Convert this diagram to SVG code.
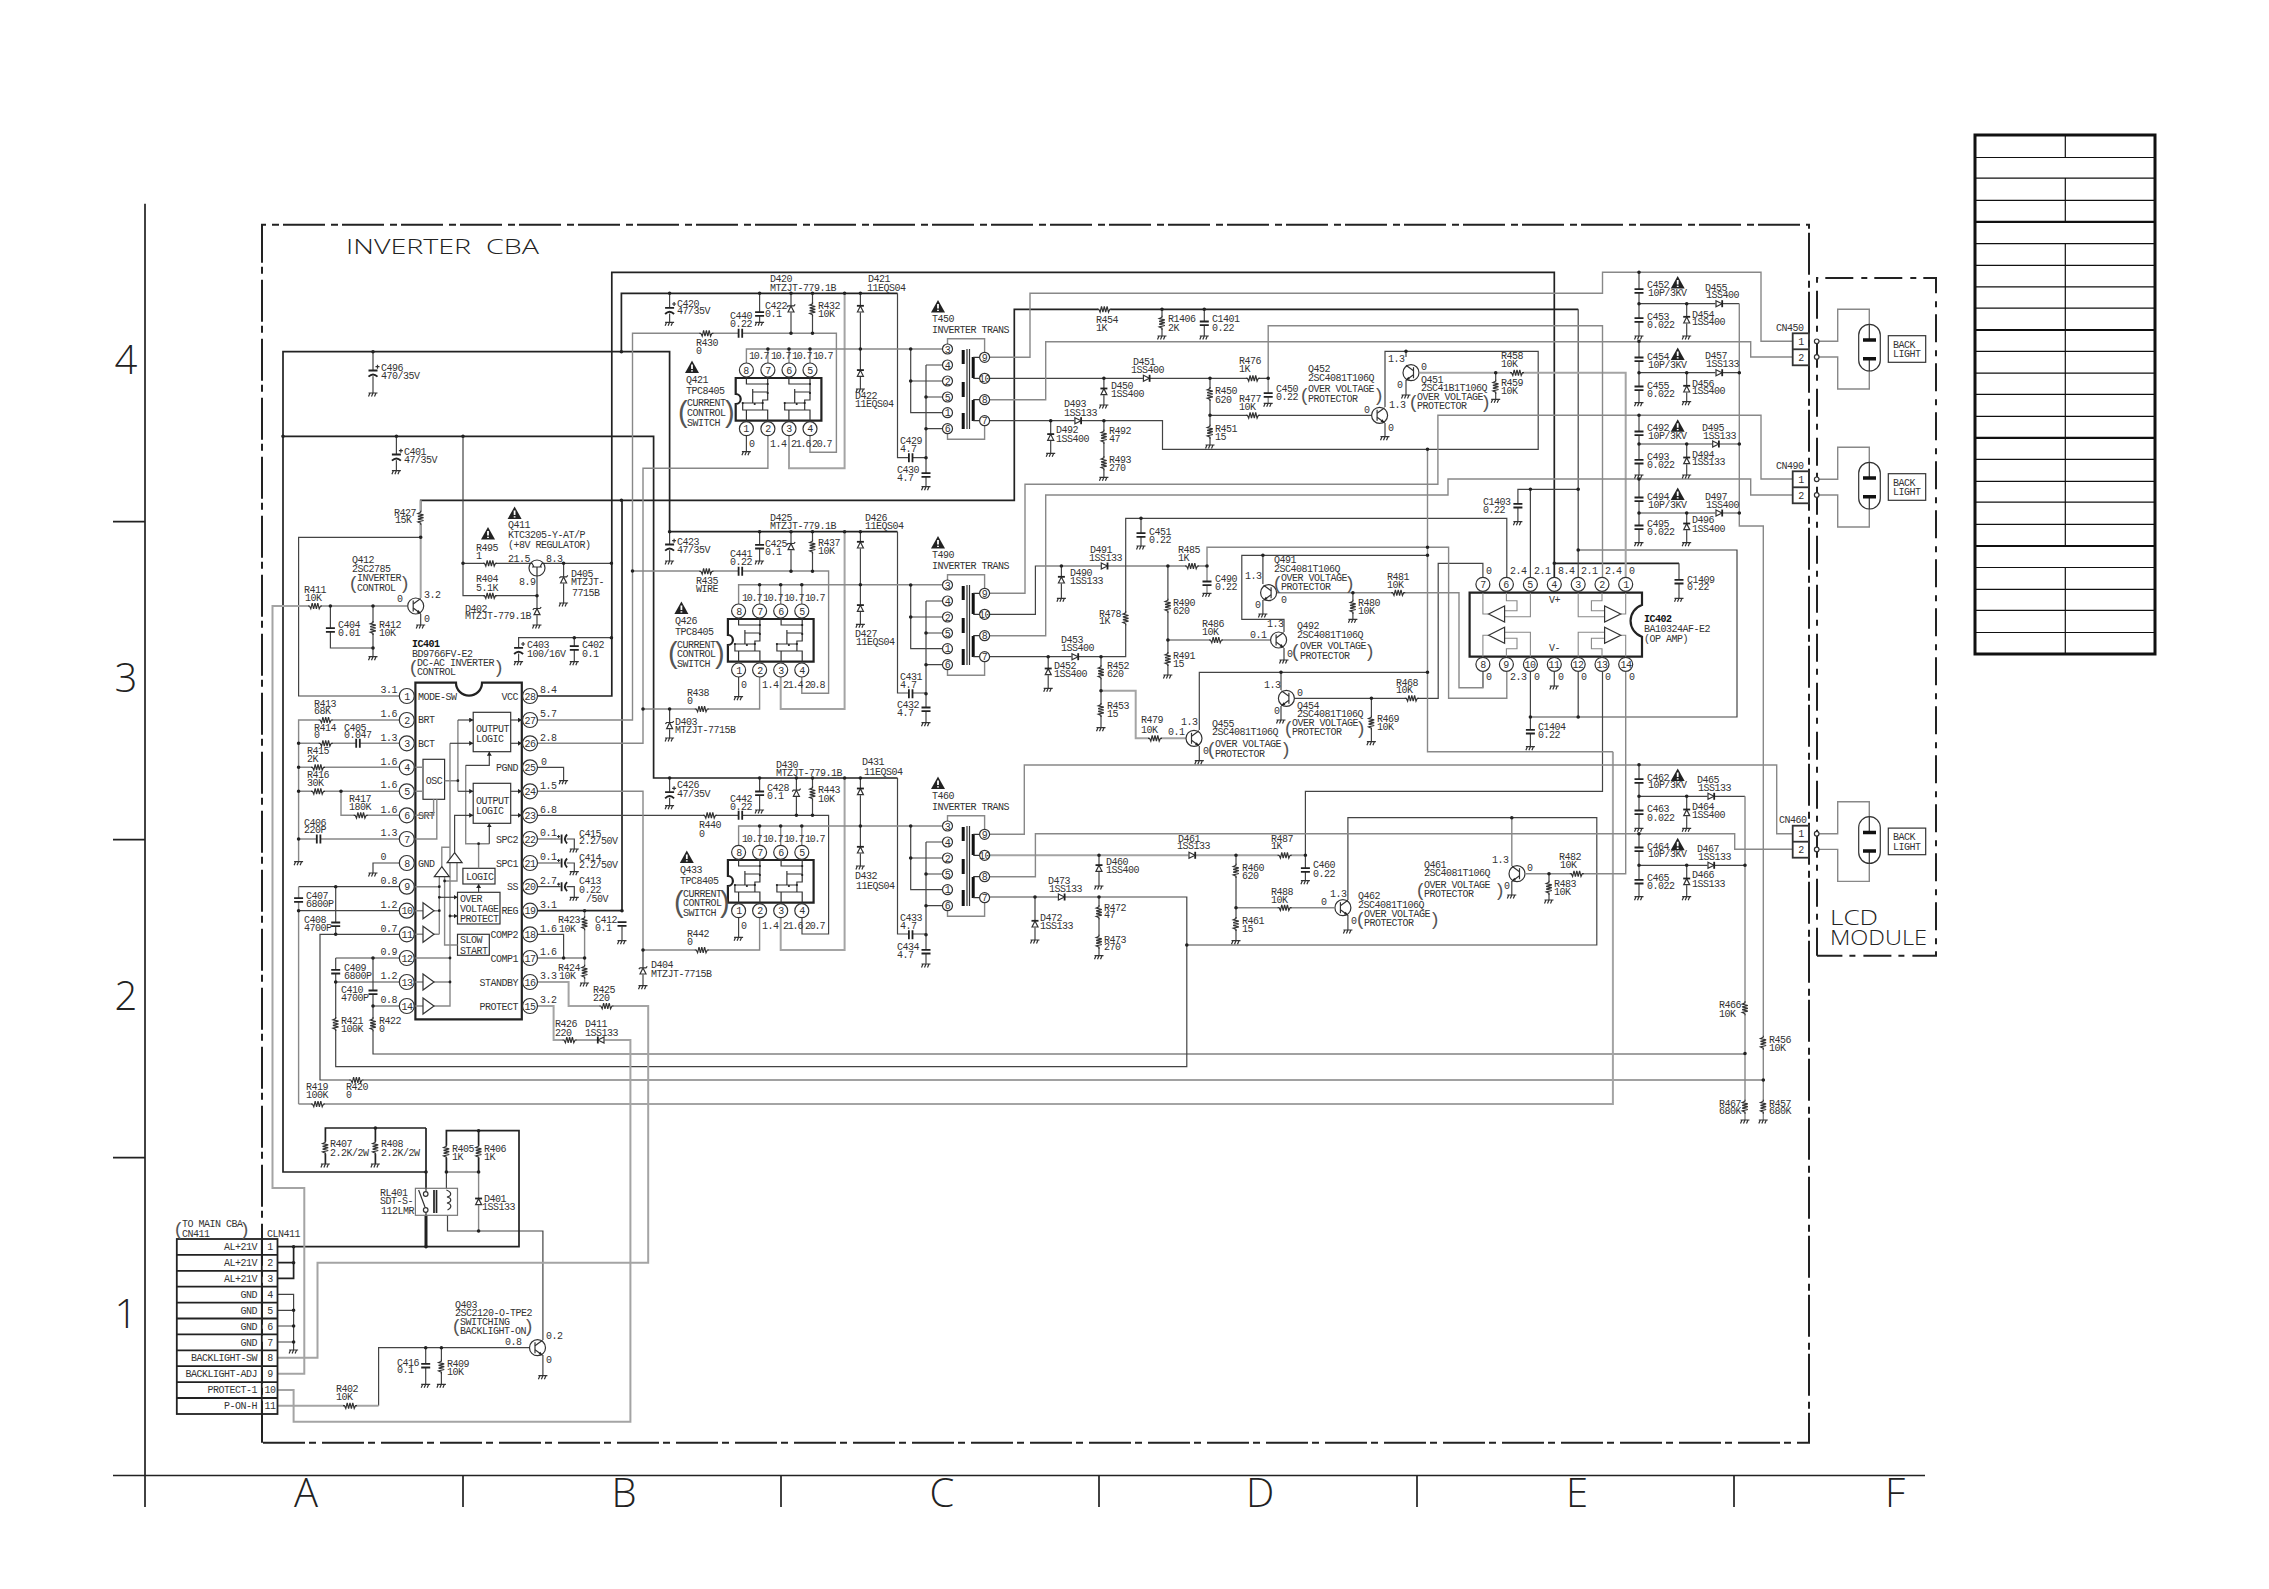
<svg xmlns="http://www.w3.org/2000/svg" width="2269" height="1589" viewBox="0 0 2269 1589">
<style>
text{font:10px "Liberation Mono",monospace;letter-spacing:-.5px;fill:#333}
.c{text-anchor:middle}.e{text-anchor:end}.b{font-weight:700;fill:#111}.n{letter-spacing:-1.2px}
.p{font:19px "Liberation Sans",sans-serif;letter-spacing:0;fill:#555}
.p3{font:29px "Liberation Sans",sans-serif;letter-spacing:0;fill:#555}
.big{font:300 20px "Open Sans","Liberation Sans",sans-serif;letter-spacing:0;fill:#222;white-space:pre}
.ax{font:300 40px "Open Sans","Liberation Sans",sans-serif;letter-spacing:0;fill:#222;text-anchor:middle}
path,line,rect,circle,polygon{fill:none;stroke:#333;stroke-width:1.2}
.w1{stroke:#444;stroke-width:1.2}.w2{stroke:#222;stroke-width:1.7}.w3{stroke:#222;stroke-width:3}
.g1{stroke:#888;stroke-width:1.4}.g2{stroke:#a4a4a4;stroke-width:2}
.dots{stroke:#222;stroke-width:3.6;stroke-linecap:round}
.f{fill:#fff}.k{fill:#222;stroke:none}.ic{fill:#fff;stroke:#222;stroke-width:2.2}
.pl{stroke:#222;stroke-width:1.8}.hv{stroke:#111;stroke-width:3.5}
.fr{stroke:#222;stroke-width:2;stroke-dasharray:42 6 7 4}.fr2{stroke:#222;stroke-width:2;stroke-dasharray:28 8 6 7}
</style>
<defs>
<marker id="a" markerWidth="5" markerHeight="5" refX="4" refY="2.5" orient="auto" markerUnits="userSpaceOnUse"><path class="k" d="M0 0L4 2.5L0 5Z"/></marker>
<g id="rv"><rect x="-3.5" y="-6" width="7" height="12" style="fill:#fff;stroke:none"/><path d="M0-7V-5.5L-2.8-4.2L2.8-2.8L-2.8-1.4L2.8 0L-2.8 1.4L2.8 2.8L-2.8 4.2L0 5.5V7" stroke-width="1.4"/></g>
<g id="rh"><rect x="-6" y="-3.5" width="12" height="7" style="fill:#fff;stroke:none"/><path d="M-7 0H-5.5L-4.2 2.8L-2.8-2.8L-1.4 2.8L0-2.8L1.4 2.8L2.8-2.8L4.2 2.8L5.5 0H7" stroke-width="1.4"/></g>
<g id="gd"><path d="M-4.5 0H4.5M-3 0L-4.5 3.5M0 0L-1.5 3.5M3 0L1.5 3.5" stroke-width="1"/></g>
<g id="cv"><rect x="-5" y="-1.7" width="10" height="3.4" style="fill:#fff;stroke:none"/><path class="pl" d="M-4.5-1.8H4.5M-4.5 1.8H4.5"/></g>
<g id="ch"><rect x="-1.7" y="-5" width="3.4" height="10" style="fill:#fff;stroke:none"/><path class="pl" d="M-1.8-4.5V4.5M1.8-4.5V4.5"/></g>
<g id="ce"><rect x="-5" y="-2.5" width="10" height="6" style="fill:#fff;stroke:none"/><path class="pl" d="M-4.5-2.2H4.5M-4.5 4Q0-.5 4.5 4"/><path d="M2.5-6H6.5M4.5-8V-4"/></g>
<g id="ceh"><rect x="-3" y="-5" width="6" height="10" style="fill:#fff;stroke:none"/><path class="pl" d="M-2-4.5V4.5M3.5-4.5Q-1 0 3.5 4.5"/><path d="M-6.5-2.5H-3.5M-5-4V-1"/></g>
<g id="du"><rect x="-3.5" y="-3.5" width="7" height="7" style="fill:#fff;stroke:none"/><path class="f" d="M-3 3L0-3L3 3Z" stroke-width="1.5"/><path class="pl" d="M-3.5-3.2H3.5"/></g>
<g id="dz"><rect x="-3.5" y="-3.5" width="7" height="7" style="fill:#fff;stroke:none"/><path class="f" d="M-3 3L0-3L3 3Z" stroke-width="1.5"/><path d="M-4.2-1.8L-3-3.2H3L4.2-4.6" stroke-width="1.5"/></g>
<g id="dr"><rect x="-3.5" y="-3.5" width="7" height="7" style="fill:#fff;stroke:none"/><path class="f" d="M-3-3L3 0L-3 3Z" stroke-width="1.6"/><path class="pl" d="M3.2-3.5V3.5"/></g>
<g id="dl"><rect x="-3.5" y="-3.5" width="7" height="7" style="fill:#fff;stroke:none"/><path class="f" d="M3-3L-3 0L3 3Z" stroke-width="1.6"/><path class="pl" d="M-3.2-3.5V3.5"/></g>
<g id="w"><path class="k" d="M0-6.5L7 6H-7Z"/><path d="M0-2.5V2M0 3.2V4.6" style="stroke:#fff;stroke-width:1.8"/></g>
<g id="q"><circle r="8" class="f" stroke-width="1.7"/><path d="M-2.5-5.5V5.5" stroke-width="2"/><path d="M-2.5-2L5-7.5M-2.5 2L5 7.5"/><path class="k" d="M5 7.5L1 6.5L2.8 4Z"/></g>
<g id="ta"><polygon class="f" points="0,-8 11,0 0,8"/></g>
<g id="tu"><polygon class="f" points="0,-5 7.5,5 -7.5,5"/></g>
<g id="chip"><path class="ic" d="M0 0H85.7V42.7H0V26A5 5 0 0 0 0 16Z"/>
<path d="M10.7 0V6H32V0M32 6V22H27V32M17 14H32M17 11V25M7 25H27M7 25V32H10.7M10.7 42.7V32H32V42.7M53.2 0V6H74.3V0M74.3 6V22H69V32M59 14H74.3M59 11V25M49 25H69M49 25V32H53.2M53.2 42.7V32H74.3V42.7" stroke-width="1"/>
<path class="dots" style="stroke-width:2.2" d="M32 6h0M32 15h0M7 25h0M27 25h0M19 26h0M74.3 6h0M74.3 15h0M49 25h0M69 25h0M61 26h0"/></g>
<g id="tr"><path class="g1" d="M947.5 344V338.7H984.6V352M947.5 434V439.3H984.6V426"/>
<path class="w1" d="M910.7 349V412.7H942.5M910.7 381H942.5M926 365H942.5M926 365V486.7M926 397H942.5M926 428.7H942.5"/>
<path class="dots" d="M910.7 349h0M910.7 381h0M926 397h0M926 428.7h0M926 457.7h0"/>
<path class="hv" style="stroke-width:3" d="M963.2 350V364M963.2 382V397M963.2 413V429M973.2 357V378M973.2 400V421"/>
<path d="M967 349V429M969.5 349V429M973.2 357.3H979.6M973.2 378.3H979.6M973.2 399.7H979.6M973.2 420.7H979.6"/>
<circle class="f" cx="947.5" cy="349" r="5"/><circle class="f" cx="947.5" cy="365" r="5"/><circle class="f" cx="947.5" cy="381" r="5"/><circle class="f" cx="947.5" cy="397" r="5"/><circle class="f" cx="947.5" cy="412.7" r="5"/><circle class="f" cx="947.5" cy="428.7" r="5"/>
<circle class="f" cx="984.6" cy="357.3" r="5"/><circle class="f" cx="984.6" cy="378.3" r="5"/><circle class="f" cx="984.6" cy="399.7" r="5"/><circle class="f" cx="984.6" cy="420.7" r="5"/></g>
<g id="lamp"><path class="g1" d="M1819 341.3H1837.7V309.3H1869.3V324M1819 357H1837.7V389H1869.3V371"/><path d="M1869.3 324V340M1869.3 359V371"/><rect x="1858.7" y="324.3" width="21.6" height="46.7" rx="10.8"/><path class="hv" d="M1863 340H1876M1863 358.7H1876"/><circle class="f" cx="1816.7" cy="341.3" r="2.3"/><circle class="f" cx="1816.7" cy="357" r="2.3"/><rect x="1888.3" y="335.7" width="37.4" height="26.6"/><rect x="1792.7" y="333.3" width="16.3" height="32" style="stroke-width:1.8"/><path style="stroke-width:1.8" d="M1792.7 349.3H1809"/></g>
</defs>
<rect width="2269" height="1589" style="fill:#fff;stroke:none"/>
<g id="frame">
<path class="w2" d="M145 203.7V1507M113 1475.5H1925M113 521.7H145M113 839.6H145M113 1157.6H145M463 1475.5V1507M781 1475.5V1507M1099 1475.5V1507M1417 1475.5V1507M1734 1475.5V1507"/>
<text class="ax" x="126" y="374">4</text><text class="ax" x="126" y="692">3</text><text class="ax" x="126" y="1010">2</text><text class="ax" x="126" y="1328">1</text>
<text class="ax" x="306" y="1507">A</text><text class="ax" x="624" y="1507">B</text><text class="ax" x="942" y="1507">C</text><text class="ax" x="1260" y="1507">D</text><text class="ax" x="1577" y="1507">E</text><text class="ax" x="1895" y="1507">F</text>
<path class="fr" d="M262 1442.7V224.7H1809V1442.7H262"/>
<path class="fr2" d="M1817 955.7V278H1936V955.7H1817"/>
<text class="big" x="346" y="254" textLength="193" lengthAdjust="spacingAndGlyphs">INVERTER  CBA</text>
<text class="big" x="1830" y="925" textLength="48" lengthAdjust="spacingAndGlyphs">LCD</text>
<text class="big" x="1830" y="945" textLength="97" lengthAdjust="spacingAndGlyphs">MODULE</text>
</g>
<g id="table">
<rect x="1975" y="135" width="180" height="519" style="stroke:#111;stroke-width:3"/>
<path style="stroke:#111;stroke-width:1.2" d="M1975 157.5H2155M1975 178.2H2155M1975 200.4H2155M1975 243.6H2155M1975 265.4H2155M1975 286.8H2155M1975 308.2H2155M1975 351.4H2155M1975 373.2H2155M1975 394.3H2155M1975 416.4H2155M1975 459.3H2155M1975 481.4H2155M1975 502.1H2155M1975 524.3H2155M1975 567.5H2155M1975 589.3H2155M1975 610.4H2155M1975 632.5H2155M2065.3 135V157.5M2065.3 178.2V221.8M2065.3 243.6V546M2065.3 567.5V654"/>
<path style="stroke:#111;stroke-width:2.2" d="M1975 221.8H2155M1975 330H2155M1975 437.9H2155M1975 546H2155"/>
</g>
<g id="connectors">
<path class="w2" d="M426 1172H283V351.7H669.6V531.7H897.5M283 436.3H653.6V778H897.5M537 696H611.8V272.3H1554.3V577M621.4 351.7V293.3H897.5M420.7 537V500.3H1014.3V309.3H1578.2M537 910.7H622V500.3M1554.3 563.3H1679"/>
<path class="w1" d="M399 696H298.6V537.3H420.7M330.4 606V648H373M373 606V656.7M420.7 614V625M463 436.3V595.7H537M463 563.3H529M545 563.3H611.8M563.6 563.3V603M537 576V625M518.6 661V637.7H611.8M574.3 637.7V661M373 351.7V393M396.4 436.3V470.7M399 863H373V873M298.6 886.7H399M298.6 910.7H399M399 934.3H320V1080H1763.3M335.7 886.7V934.3M335.7 958H399M335.7 958V1066.7H1186.8V897H989.6M335.7 982H399M373 958V1054H1745M373 1006H399M537 767.3H563.6V780.7M537 815.3H828.6V934H802V917.7M537 839H574.3V849M537 863H574.3V871.7M537 886.7H574.3V897.3M537 934.3H563.6V958M537 958H584.6M277.5 1294.3H293.6V1350M277.5 1310.3H293.6M277.5 1326H293.6M277.5 1342H293.6M446.4 1172V1190M447.5 1210V1231H542.9V1340M542.9 1355V1375.7M378.6 1405.7V1347.7H529M425.7 1347.7V1384.3M441.4 1347.7V1384.3M746.4 436V451.7M860.4 293.3V389M791 293.3V333.3M812.5 293.3V333.3M669.6 293.3V322.3M759.6 293.3V322.3M897.5 293.3V457.7H926M738.6 677V696.7M860.4 531.7V624.3M791 531.7V571M812.5 531.7V571M759.6 531.7V561M669.6 531.7V561M897.5 531.7V693H926M669.6 709V738M738.6 918V937.3M860.4 778V866M796.4 778V815.3M812.5 778V815.3M759.6 778V810M669.6 778V805.7M897.5 778V934H926M643 950V985.7M989.6 378.3H1268.2M989.6 420.7H1162.5V449.3H1538.2V351.3H1385V407M1103.9 378.3V405M1050.7 420.7V453.3M1103.9 420.7V477.3M1162 309.3V336M1204.3 309.3V336M1210 378.3V445M1210 415.3H1371M1385 423V436.7M1406 351.3V357M1406 380V395M1495.7 372.7V399.3M989.6 614.3H1035.4V566H1207M989.6 656.7H1125.7V518.3H1506.8V577M1061.4 566V598.3M1048.2 656.7V688.3M1101 656.7V727.7M1141 518.3V546M1167.9 566V675M1167.9 640H1270M1284 632V619.3H1241.8V555.3H1427.5M1284 648V660M1262.9 555.3V584M1262.9 600V614M1352.9 592.7V619.3M1199.3 730V672.3H1427.5M1199.3 746V760.7M1281 672.3V690M1281 706V720M1295 698.3H1438.2V563.3H1482.9V577M1371.4 698.3V741.7M989.6 897H1186.8M1099 855.3V886M1035 897V940M1099 897V955.7M1236 855.3V940.7M1305.4 855.3V791.3H1602.5V672M1305.4 855V880.7M1347.9 900V817.7H1596.8V945H1186.8M1347.9 915V930M1511.8 881V895M1549 873.7V900M1578.2 309.3V577M1578.2 672V717H1737V550H1578.2M1530.4 577V489.3M1517.9 521.7V489.3H1578.2M1530.4 672V746.7M1530.4 717H1578.2M1554.3 672V686M1679 563.3V598.3M1482.9 672V687.7M1639 272.3V336M1639 341.3V402.7M1639 303.7H1739.3M1686.7 303.7V336M1639 372.7H1739.3M1686.7 372.7V401.7M1639 415.3V475M1639 479V542.7M1639 444H1739.3M1686.7 444V475M1639 513H1739.3M1686.7 513V542.7M1639 764.7V828.3M1639 833.7V896.7M1639 796.3H1745M1686.7 796.3V828.3M1639 865.3H1745M1686.7 865.3V896.7"/>
<path class="w2" d="M277.5 1246.7H519V1130.7H446.4V1172M478.6 1130.7V1172M277.5 1262.7H293.6M293.6 1246.7V1278.3H277.5M426 1128H325.4V1164M375.4 1128V1164M426 1128V1189"/>
<path class="w3" d="M426 1215V1246.7"/>
<path class="g2" d="M420.7 500.3V598M277.5 1373.7H304.3V1188H272.5V606H407M298.6 1104H1612.9V751.7M537 1006H553.6V1040H630.4V1421.7H293.6V1390H277.5M537 982H568.6V1006H648.2V1262.7H317.5V1357.7H277.5M277.5 1405.7H378.6M789 436V468.3H844.6V293.3M780.7 677V709H844.6V531.7M780.7 918V950H844.6V778M1101 690.7H1135.7V738.3H1186M1420 372.7H1625.7V577M989.6 855.3H1305.4"/>
<path class="g1" d="M399 720H298.6V861.7M298.6 743.3H399M298.6 767.3H399M298.6 791.3H399M341 791.3V815.3H399M298.6 839H399M298.6 886.7V1104M1612.9 751.7H1427.5V449.3M537 720H632.5V333.3H836.4V452.3H810V436M537 743.3H643V468.3H767.9V436M537 791.3H643V950M584.6 910.7V983M446.4 1172H478.6M478.6 1172V1231M746.4 363V349H942.9M767.9 349V363M789 349V363M810 349V363M738.6 604V584.7H942.9M759.6 584.7V604M780.7 584.7V604M801.8 584.7V604M759.6 677V709H643M632.5 571H828.6V693.3H801.8V677M738.6 845V826H942.9M759.6 826V845M780.7 826V845M801.8 826V845M759.6 918V950H643M989.6 357.3H1030V293.3H1602.5V272.3H1761V341.3H1792.7M989.6 399.7H1045.7V341.7H1750.7V357H1792.7M1268.2 403.3V325.7H1602.5V577M989.6 593.3H1025V484.3H1437.9V415.3H1761V479H1792.7M989.6 635.7H1045.7V495H1448V479H1750.7V495H1792.7M1207 593.3V547.3H1448.6V698.3H1506.8V672M1277 592.7H1459V687.7H1482.9V672M989.6 834.3H1024.3V765H1776.7V833.7H1792.7M989.6 876.7H1035.4V833.7H1734.7V849.3H1792.7M1236 907.7H1334M1511.8 817.7V866M1526 873.7H1625.7V672M1739.3 303.7V526H1763.3V1120M1745 796.3V1120"/>
<path class="dots" d="M373 351.7h0M621.4 351.7h0M283 436.3h0M396.4 436.3h0M463 436.3h0M463 563.3h0M611.4 563.3h0M563.6 563.3h0M420.7 537.3h0M330.4 606h0M373 606h0M373 648h0M537 595.7h0M574.3 637.7h0M611.4 637.7h0M621.4 500.3h0M632.5 571h0M643 709h0M669.6 709h0M298.6 743.3h0M298.6 767.3h0M298.6 791.3h0M341 791.3h0M298.6 839h0M335.7 886.7h0M298.6 910.7h0M335.7 934.3h0M373 958h0M335.7 982h0M373 1006h0M622 910.7h0M584.6 910.7h0M563.6 958h0M584.6 958h0M293.6 1246.7h0M293.6 1262.7h0M426 1246.7h0M293.6 1310.3h0M293.6 1326h0M293.6 1342h0M375.4 1128h0M478.6 1130.7h0M426 1172h0M446.4 1172h0M478.6 1172h0M478.6 1231h0M425.7 1347.7h0M441.4 1347.7h0M669.6 293.3h0M759.6 293.3h0M791 293.3h0M812.5 293.3h0M844.6 293.3h0M860.4 293.3h0M791 333.3h0M812.5 333.3h0M767.9 349h0M789 349h0M810 349h0M860.4 349h0M669.6 531.7h0M759.6 531.7h0M791 531.7h0M812.5 531.7h0M844.6 531.7h0M860.4 531.7h0M791 571.3h0M812.5 571.3h0M759.6 584.7h0M780.7 584.7h0M801.8 584.7h0M860.4 584.7h0M669.6 778h0M759.6 778h0M796.4 778h0M812.5 778h0M844.6 778h0M860.4 778h0M796.4 815.3h0M812.5 815.3h0M759.6 826h0M780.7 826h0M801.8 826h0M860.4 826h0M643 950h0M1103.9 378.3h0M1050.7 420.7h0M1103.9 420.7h0M1162 309.3h0M1204.3 309.3h0M1210 378.3h0M1268.2 378.3h0M1210 415.3h0M1406 351.3h0M1495.7 372.7h0M1427.5 449.3h0M1061.4 566h0M1048.2 656.7h0M1101 656.7h0M1101 690.7h0M1141 518.3h0M1167.9 566h0M1207 566h0M1167.9 640h0M1427.5 547.3h0M1262.9 555.3h0M1427.5 555.3h0M1352.9 592.7h0M1281 672.3h0M1427.5 672.3h0M1371.4 698.3h0M1099 855.3h0M1035 897h0M1099 897h0M1236 855.3h0M1305.4 855.3h0M1236 907.7h0M1186.8 945h0M1511.8 817.7h0M1549 873.7h0M1554.3 563.3h0M1578.2 550h0M1530.4 489.3h0M1578.2 489.3h0M1578.2 717h0M1530.4 717h0M1639 272.3h0M1639 303.7h0M1686.7 303.7h0M1639 341.3h0M1639 372.7h0M1686.7 372.7h0M1739.3 372.7h0M1639 415.3h0M1639 444h0M1686.7 444h0M1739.3 444h0M1639 479h0M1639 513h0M1686.7 513h0M1739.3 513h0M1639 764.7h0M1639 796.3h0M1686.7 796.3h0M1639 833.7h0M1639 865.3h0M1686.7 865.3h0M1745 865.3h0M1745 1053.5h0M1763.3 1080h0"/>
</g>
<g id="C496"><use href="#ce" x="373" y="372.7"/><use href="#gd" x="373" y="393"/><text x="381" y="371">C496</text><text x="381" y="379">470/35V</text></g>
<g id="C401"><use href="#ce" x="396.4" y="456.7"/><use href="#gd" x="396.4" y="470.7"/><text x="404" y="455">C401</text><text x="404" y="463">47/35V</text></g>
<g id="R427"><use href="#rv" x="420.7" y="517.7"/><text x="394" y="516">R427</text><text x="395" y="523">15K</text></g>
<g id="Q412"><use href="#q" x="415.7" y="606"/><use href="#gd" x="420.7" y="625"/><text x="352" y="563">Q412</text><text x="352" y="572">2SC2785</text><text x="357" y="581">INVERTER</text><text x="357" y="591">CONTROL</text><text class="p" x="350" y="589">(</text><text class="p" x="402" y="589">)</text><text x="397" y="602">0</text><text x="424" y="598">3.2</text><text x="424" y="622">0</text></g>
<g id="R411"><use href="#rh" x="315" y="606"/><text x="304" y="593">R411</text><text x="305" y="601">10K</text></g>
<g id="C404"><use href="#cv" x="330.4" y="630"/><text x="338" y="628">C404</text><text x="338" y="636">0.01</text></g>
<g id="R412"><use href="#rv" x="373" y="628"/><use href="#gd" x="373" y="656.7"/><text x="379" y="628">R412</text><text x="379" y="636">10K</text></g>
<g id="R495"><use href="#w" x="488" y="533.5"/><use href="#rh" x="490" y="563.3"/><text x="476" y="551">R495</text><text x="476" y="559">1</text></g>
<g id="R404"><use href="#rh" x="490" y="595.7"/><text x="476" y="582">R404</text><text x="476" y="591">5.1K</text></g>
<g id="Q411"><use href="#w" x="514.6" y="513"/><circle class="f" cx="537" cy="568" r="8" stroke-width="1.7"/><path d="M529 563.3H532L534 567M545 563.3H542L540 567M532 567H542M537 567V576" stroke-width="1.3"/><text x="508" y="528">Q411</text><text x="508" y="538">KTC3205-Y-AT/P</text><text x="508" y="548">(+8V REGULATOR)</text><text x="508" y="562">21.5</text><text x="546" y="562">8.3</text><text x="519" y="585">8.9</text></g>
<g id="D405"><use href="#dz" x="563.6" y="580"/><use href="#gd" x="563.6" y="603"/><text x="571" y="577">D405</text><text x="571" y="585">MTZJT-</text><text x="572" y="596">7715B</text></g>
<g id="D402"><use href="#dz" x="537" y="611.7"/><use href="#gd" x="537" y="625"/><text x="465" y="612">D402</text><text x="465" y="619">MTZJT-779.1B</text></g>
<g id="C403"><use href="#ce" x="518.6" y="650"/><use href="#gd" x="518.6" y="661.7"/><text x="527" y="648">C403</text><text x="527" y="657">100/16V</text></g>
<g id="C402"><use href="#cv" x="574.3" y="648"/><use href="#gd" x="574.3" y="661.7"/><text x="582" y="648">C402</text><text x="582" y="657">0.1</text></g>
<g id="IC401">
<path class="ic" d="M415.4 682.7H456A13 13 0 0 0 482 682.7H521.8V1019.3H415.4Z"/>
<text class="b" x="412" y="647">IC401</text><text x="412" y="657">BD9766FV-E2</text><text x="417" y="666">DC-AC INVERTER</text><text x="417" y="675">CONTROL</text><text class="p" x="410" y="673">(</text><text class="p" x="496" y="673">)</text>
<circle class="f" cx="406.8" cy="696" r="7.5"/><circle class="f" cx="406.8" cy="720" r="7.5"/><circle class="f" cx="406.8" cy="743.3" r="7.5"/><circle class="f" cx="406.8" cy="767.3" r="7.5"/><circle class="f" cx="406.8" cy="791.3" r="7.5"/><circle class="f" cx="406.8" cy="815.3" r="7.5"/><circle class="f" cx="406.8" cy="839" r="7.5"/><circle class="f" cx="406.8" cy="863" r="7.5"/><circle class="f" cx="406.8" cy="886.7" r="7.5"/><circle class="f" cx="406.8" cy="910.7" r="7.5"/><circle class="f" cx="406.8" cy="934.3" r="7.5"/><circle class="f" cx="406.8" cy="958" r="7.5"/><circle class="f" cx="406.8" cy="982" r="7.5"/><circle class="f" cx="406.8" cy="1006" r="7.5"/>
<circle class="f" cx="530" cy="696" r="7.5"/><circle class="f" cx="530" cy="720" r="7.5"/><circle class="f" cx="530" cy="743.3" r="7.5"/><circle class="f" cx="530" cy="767.3" r="7.5"/><circle class="f" cx="530" cy="791.3" r="7.5"/><circle class="f" cx="530" cy="815.3" r="7.5"/><circle class="f" cx="530" cy="839" r="7.5"/><circle class="f" cx="530" cy="863" r="7.5"/><circle class="f" cx="530" cy="886.7" r="7.5"/><circle class="f" cx="530" cy="910.7" r="7.5"/><circle class="f" cx="530" cy="934.3" r="7.5"/><circle class="f" cx="530" cy="958" r="7.5"/><circle class="f" cx="530" cy="982" r="7.5"/><circle class="f" cx="530" cy="1006" r="7.5"/>
<text class="c" x="407" y="700">1</text><text class="c" x="407" y="724">2</text><text class="c" x="407" y="747">3</text><text class="c" x="407" y="771">4</text><text class="c" x="407" y="795">5</text><text class="c" x="407" y="819">6</text><text class="c" x="407" y="843">7</text><text class="c" x="407" y="867">8</text><text class="c" x="407" y="890">9</text><text class="c" x="407" y="914">10</text><text class="c" x="407" y="938">11</text><text class="c" x="407" y="962">12</text><text class="c" x="407" y="986">13</text><text class="c" x="407" y="1010">14</text>
<text class="c" x="530" y="700">28</text><text class="c" x="530" y="724">27</text><text class="c" x="530" y="747">26</text><text class="c" x="530" y="771">25</text><text class="c" x="530" y="795">24</text><text class="c" x="530" y="819">23</text><text class="c" x="530" y="843">22</text><text class="c" x="530" y="867">21</text><text class="c" x="530" y="890">20</text><text class="c" x="530" y="914">19</text><text class="c" x="530" y="938">18</text><text class="c" x="530" y="962">17</text><text class="c" x="530" y="986">16</text><text class="c" x="530" y="1010">15</text>
<text class="e" x="397" y="693">3.1</text><text class="e" x="397" y="717">1.6</text><text class="e" x="397" y="741">1.3</text><text class="e" x="397" y="765">1.6</text><text class="e" x="397" y="788">1.6</text><text class="e" x="397" y="813">1.6</text><text class="e" x="397" y="836">1.3</text><text class="e" x="386" y="860">0</text><text class="e" x="397" y="884">0.8</text><text class="e" x="397" y="908">1.2</text><text class="e" x="397" y="932">0.7</text><text class="e" x="397" y="955">0.9</text><text class="e" x="397" y="979">1.2</text><text class="e" x="397" y="1003">0.8</text>
<text x="540" y="693">8.4</text><text x="540" y="717">5.7</text><text x="540" y="741">2.8</text><text x="541" y="765">0</text><text x="540" y="789">1.5</text><text x="540" y="813">6.8</text><text x="540" y="836">0.1</text><text x="540" y="860">0.1</text><text x="540" y="884">2.7</text><text x="540" y="908">3.1</text><text x="540" y="932">1.6</text><text x="540" y="955">1.6</text><text x="540" y="979">3.3</text><text x="540" y="1003">3.2</text>
<text x="418" y="700">MODE-SW</text><text x="418" y="723">BRT</text><text x="418" y="747">BCT</text><text x="418" y="819">SRT</text><text x="418" y="867">GND</text>
<text class="e" x="518" y="700">VCC</text><text class="e" x="518" y="771">PGND</text><text class="e" x="518" y="843">SPC2</text><text class="e" x="518" y="867">SPC1</text><text class="e" x="518" y="890">SS</text><text class="e" x="518" y="914">REG</text><text class="e" x="518" y="938">COMP2</text><text class="e" x="518" y="962">COMP1</text><text class="e" x="518" y="986">STANDBY</text><text class="e" x="518" y="1010">PROTECT</text>
<rect x="423" y="759.3" width="21.6" height="40"/><text class="c" x="434" y="784">OSC</text>
<rect x="473.2" y="712.3" width="37.5" height="39.4"/><text x="476" y="732">OUTPUT</text><text x="476" y="742">LOGIC</text>
<rect x="473.2" y="783.3" width="37.5" height="40"/><text x="476" y="804">OUTPUT</text><text x="476" y="814">LOGIC</text>
<rect x="462.9" y="868.3" width="32.1" height="15.7"/><text x="466" y="880">LOGIC</text>
<rect x="457.5" y="892.3" width="42.5" height="31.7"/><text x="460" y="902">OVER</text><text x="460" y="912">VOLTAGE</text><text x="460" y="922">PROTECT</text>
<rect x="457.5" y="934.3" width="31.8" height="21"/><text x="460" y="943">SLOW</text><text x="460" y="954">START</text>
<g><path class="g1" d="M415.4 767.3H423M415.4 791.3H423M415.4 815.3H433.6V799.3M415.4 839H436.8V799.3M444.6 780.7H457.9V791.3M457.9 780.7V720M415.4 886.7H439.3M415.4 910.7H423M415.4 934.3H423M415.4 958H450M415.4 982H423M415.4 1006H423M434 910.7H439.3M434 934.3H439.3M439.3 876V934.3M434 982H450M434 1006H450V743.3M444.6 876V945H457.5M444.6 881H457V862.7M441.8 866.7V847.3H450M478.6 843.7V868.3M465.7 765.3V843.7H489.3"/>
<path class="w1" marker-end="url(#a)" d="M457.9 720H473.2"/><path class="w1" marker-end="url(#a)" d="M450 743.3H473.2"/><path class="w1" marker-end="url(#a)" d="M457.9 791.3H473.2"/><path class="w1" marker-end="url(#a)" d="M454.6 852.7V815.3H473.2"/><path class="w1" marker-end="url(#a)" d="M510.7 720H521.8"/><path class="w1" marker-end="url(#a)" d="M510.7 743.3H521.8"/><path class="w1" marker-end="url(#a)" d="M510.7 791.3H521.8"/><path class="w1" marker-end="url(#a)" d="M510.7 815.3H521.8"/><path class="w1" marker-end="url(#a)" d="M465.7 765.3H489.3V751.7"/><path class="w1" marker-end="url(#a)" d="M489.3 843.7V823.3"/><path class="w1" marker-end="url(#a)" d="M478.6 892.3V884"/><path class="w1" marker-end="url(#a)" d="M439.3 897.3H457.5"/><path class="w1" marker-end="url(#a)" d="M450 916H457.5"/></g>
<use href="#ta" x="423" y="910.7"/><use href="#ta" x="423" y="934.3"/><use href="#ta" x="423" y="982"/><use href="#ta" x="423" y="1006"/><use href="#tu" x="441.8" y="871.7"/><use href="#tu" x="454.6" y="857.7"/>
<path class="dots" style="stroke-width:2.8" d="M457.9 780.7h0M478.6 843.7h0M439.3 886.7h0M439.3 910.7h0M444.6 881h0M439.3 897.3h0M450 916h0M450 958h0M450 982h0"/>
</g>
<g id="R413"><use href="#rh" x="325.7" y="720"/><text x="314" y="707">R413</text><text x="314" y="714">68K</text></g>
<g id="GNDL"><use href="#gd" x="298.6" y="861.7"/><use href="#gd" x="373" y="873"/><use href="#gd" x="563.6" y="780.7"/></g>
<g id="R414"><use href="#rh" x="325.7" y="743.3"/><text x="314" y="731">R414</text><text x="314" y="738">0</text></g>
<g id="C405"><use href="#ch" x="358" y="743.3"/><text x="344" y="731">C405</text><text x="344" y="738">0.047</text></g>
<g id="R415"><use href="#rh" x="318" y="767.3"/><text x="307" y="754">R415</text><text x="307" y="762">2K</text></g>
<g id="R416"><use href="#rh" x="318" y="791.3"/><text x="307" y="778">R416</text><text x="307" y="786">30K</text></g>
<g id="R417"><use href="#rh" x="360.7" y="815.3"/><text x="349" y="802">R417</text><text x="349" y="810">180K</text></g>
<g id="C406"><use href="#ch" x="318.6" y="839"/><text x="304" y="826">C406</text><text x="304" y="833">220P</text></g>
<g id="C407"><use href="#cv" x="298.6" y="900"/><text x="306" y="899">C407</text><text x="306" y="907">6800P</text></g>
<g id="C408"><use href="#cv" x="335.7" y="924.3"/><text x="304" y="923">C408</text><text x="304" y="931">4700P</text></g>
<g id="C409"><use href="#cv" x="335.7" y="971.7"/><text x="344" y="971">C409</text><text x="344" y="979">6800P</text></g>
<g id="C410"><use href="#cv" x="373" y="992.3"/><text x="341" y="993">C410</text><text x="341" y="1001">4700P</text></g>
<g id="R421"><use href="#rv" x="335.7" y="1024"/><text x="341" y="1024">R421</text><text x="341" y="1032">100K</text></g>
<g id="R422"><use href="#rv" x="373" y="1024.3"/><text x="379" y="1024">R422</text><text x="379" y="1032">0</text></g>
<g id="R419"><use href="#rh" x="318" y="1104"/><text x="306" y="1090">R419</text><text x="306" y="1098">100K</text></g>
<g id="R420"><use href="#rh" x="356.4" y="1080"/><text x="346" y="1090">R420</text><text x="346" y="1098">0</text></g>
<g id="C415"><use href="#ceh" x="563.6" y="839"/><use href="#gd" x="574.3" y="849"/><text x="579" y="837">C415</text><text x="579" y="844">2.2/50V</text></g>
<g id="C414"><use href="#ceh" x="563.6" y="863"/><use href="#gd" x="574.3" y="871.7"/><text x="579" y="861">C414</text><text x="579" y="868">2.2/50V</text></g>
<g id="C413"><use href="#ceh" x="563.6" y="886.7"/><use href="#gd" x="574.3" y="897.3"/><text x="579" y="884">C413</text><text x="579" y="893">0.22</text><text x="586" y="902">/50V</text></g>
<g id="C412"><use href="#cv" x="622" y="924"/><use href="#gd" x="622" y="940.7"/><path class="w1" d="M622 926V940.7"/><text x="595" y="923">C412</text><text x="595" y="931">0.1</text></g>
<g id="R423"><use href="#rv" x="584.6" y="923.3"/><text x="558" y="923">R423</text><text x="559" y="932">10K</text></g>
<g id="R424"><use href="#rv" x="584.6" y="971.7"/><use href="#gd" x="584.6" y="983"/><text x="558" y="971">R424</text><text x="559" y="979">10K</text></g>
<g id="R425"><use href="#rh" x="606.4" y="1006"/><text x="593" y="993">R425</text><text x="593" y="1001">220</text></g>
<g id="R426"><use href="#rh" x="569.6" y="1040"/><text x="555" y="1027">R426</text><text x="555" y="1036">220</text></g>
<g id="D411"><use href="#dl" x="601" y="1040"/><text x="585" y="1027">D411</text><text x="585" y="1036">1SS133</text></g>
<g id="R407"><use href="#rv" x="325.4" y="1147.7"/><use href="#gd" x="325.4" y="1164"/><text x="330" y="1147">R407</text><text x="330" y="1156">2.2K/2W</text></g>
<g id="R408"><use href="#rv" x="375.4" y="1147.7"/><use href="#gd" x="375.4" y="1164"/><text x="381" y="1147">R408</text><text x="381" y="1156">2.2K/2W</text></g>
<g id="R405"><use href="#rv" x="446.4" y="1151.7"/><text x="452" y="1152">R405</text><text x="452" y="1160">1K</text></g>
<g id="R406"><use href="#rv" x="478.6" y="1151.7"/><text x="484" y="1152">R406</text><text x="484" y="1160">1K</text></g>
<g id="D401"><use href="#du" x="478.6" y="1201.7"/><text x="484" y="1202">D401</text><text x="482" y="1210">1SS133</text></g>
<g id="RL401"><rect class="f" x="415.4" y="1188.3" width="42.1" height="27" style="stroke:#777"/><circle cx="425.7" cy="1194" r="2.3"/><circle cx="425.7" cy="1210" r="2.3"/><path d="M426 1188.3V1191.7M426 1212.3V1215M418.6 1190L425 1207"/><path class="w2" d="M434 1190V1213M436.5 1190V1213"/><path d="M446.4 1190C452 1192 452 1196 447 1197C452 1198 452 1202 447 1203C452 1204 452 1208 447.5 1210"/><text x="380" y="1196">RL401</text><text x="380" y="1204">SDT-S-</text><text x="381" y="1214">112LMR</text></g>
<g id="CN411"><rect x="176.8" y="1239" width="100.7" height="175" style="stroke:#222;stroke-width:1.8"/><path style="stroke:#222;stroke-width:1.8" d="M261.8 1239V1414M176.8 1254.9H277.5M176.8 1270.8H277.5M176.8 1286.7H277.5M176.8 1302.6H277.5M176.8 1318.5H277.5M176.8 1334.4H277.5M176.8 1350.3H277.5M176.8 1366.2H277.5M176.8 1382.1H277.5M176.8 1398H277.5"/>
<text x="182" y="1227">TO MAIN CBA</text><text x="182" y="1237">CN411</text><text class="p" x="175" y="1235">(</text><text class="p" x="242" y="1235">)</text><text x="267" y="1237">CLN411</text>
<text class="e" x="257" y="1250">AL+21V</text><text class="e" x="257" y="1266">AL+21V</text><text class="e" x="257" y="1282">AL+21V</text><text class="e" x="257" y="1298">GND</text><text class="e" x="257" y="1314">GND</text><text class="e" x="257" y="1330">GND</text><text class="e" x="257" y="1346">GND</text><text class="e" x="257" y="1361">BACKLIGHT-SW</text><text class="e" x="257" y="1377">BACKLIGHT-ADJ</text><text class="e" x="257" y="1393">PROTECT-1</text><text class="e" x="257" y="1409">P-ON-H</text>
<text class="c" x="270" y="1250">1</text><text class="c" x="270" y="1266">2</text><text class="c" x="270" y="1282">3</text><text class="c" x="270" y="1298">4</text><text class="c" x="270" y="1314">5</text><text class="c" x="270" y="1330">6</text><text class="c" x="270" y="1346">7</text><text class="c" x="270" y="1361">8</text><text class="c" x="270" y="1377">9</text><text class="c" x="270" y="1393">10</text><text class="c" x="270" y="1409">11</text>
<use href="#gd" x="293.6" y="1350"/></g>
<g id="Q403"><use href="#q" x="537.5" y="1347.7"/><use href="#gd" x="542.9" y="1375.7"/><text x="455" y="1308">Q403</text><text x="455" y="1316">2SC2120-O-TPE2</text><text x="460" y="1325">SWITCHING</text><text x="460" y="1334">BACKLIGHT-ON</text><text class="p" x="453" y="1332">(</text><text class="p" x="526" y="1332">)</text><text x="505" y="1345">0.8</text><text x="546" y="1339">0.2</text><text x="546" y="1363">0</text></g>
<g id="C416"><use href="#cv" x="425.7" y="1365.7"/><use href="#gd" x="425.7" y="1384.3"/><text x="397" y="1366">C416</text><text x="397" y="1373">0.1</text></g>
<g id="R409"><use href="#rv" x="441.4" y="1366.7"/><use href="#gd" x="441.4" y="1384.3"/><text x="447" y="1367">R409</text><text x="447" y="1375">10K</text></g>
<g id="R402"><use href="#rh" x="350" y="1405.7"/><text x="336" y="1392">R402</text><text x="336" y="1400">10K</text></g>
<g id="C420"><use href="#ce" x="669.6" y="310"/><use href="#gd" x="669.6" y="322.3"/><text x="677" y="307">C420</text><text x="677" y="314">47/35V</text></g>
<g id="C422"><use href="#cv" x="759.6" y="314"/><use href="#gd" x="759.6" y="322.3"/><text x="765" y="309">C422</text><text x="765" y="317">0.1</text></g>
<g id="D420"><use href="#dz" x="791" y="309"/><text x="770" y="282">D420</text><text x="770" y="291">MTZJT-779.1B</text></g>
<g id="R432"><use href="#rv" x="812.5" y="309.3"/><text x="818" y="309">R432</text><text x="818" y="317">10K</text></g>
<g id="R430"><use href="#rh" x="706.4" y="333.3"/><text x="696" y="346">R430</text><text x="696" y="354">0</text></g>
<g id="C440"><use href="#ch" x="740.4" y="333.3"/><text x="730" y="319">C440</text><text x="730" y="327">0.22</text></g>
<g id="Q421"><use href="#chip" x="735.7" y="378"/><use href="#w" x="692" y="367"/><circle class="f" cx="746.4" cy="370" r="7"/><circle class="f" cx="767.9" cy="370" r="7"/><circle class="f" cx="789" cy="370" r="7"/><circle class="f" cx="810" cy="370" r="7"/><circle class="f" cx="746.4" cy="428.7" r="7"/><circle class="f" cx="767.9" cy="428.7" r="7"/><circle class="f" cx="789" cy="428.7" r="7"/><circle class="f" cx="810" cy="428.7" r="7"/><use href="#gd" x="746.4" y="451.7"/>
<text class="c" x="746" y="374">8</text><text class="c" x="768" y="374">7</text><text class="c" x="789" y="374">6</text><text class="c" x="810" y="374">5</text><text class="c" x="746" y="432">1</text><text class="c" x="768" y="432">2</text><text class="c" x="789" y="432">3</text><text class="c" x="810" y="432">4</text>
<text class="n" x="749" y="359">10.7</text><text class="n" x="771" y="359">10.7</text><text class="n" x="792" y="359">10.7</text><text class="n" x="813" y="359">10.7</text><text x="749" y="447">0</text><text x="770" y="447">1.4</text><text class="n" x="791" y="447">21.6</text><text class="n" x="812" y="447">20.7</text>
<text x="686" y="383">Q421</text><text x="686" y="394">TPC8405</text><text x="687" y="406">CURRENT</text><text x="687" y="416">CONTROL</text><text x="687" y="426">SWITCH</text><text class="p3" x="678" y="422">(</text><text class="p3" x="725" y="422">)</text></g>
<g id="D421"><use href="#du" x="860.4" y="309"/><text x="868" y="282">D421</text><text x="867" y="291">11EQS04</text></g>
<g id="D422"><use href="#du" x="860.4" y="373.3"/><use href="#gd" x="860.4" y="389"/><text x="855" y="399">D422</text><text x="855" y="407">11EQS04</text></g>
<g id="T450"><use href="#w" x="938" y="306.5"/><use href="#tr"/><text x="932" y="322">T450</text><text x="932" y="333">INVERTER TRANS</text>
<text class="c" x="947.5" y="352.5">3</text><text class="c" x="947.5" y="368.5">4</text><text class="c" x="947.5" y="384.5">2</text><text class="c" x="947.5" y="400.5">5</text><text class="c" x="947.5" y="416">1</text><text class="c" x="947.5" y="432">6</text><text class="c" x="984.6" y="361">9</text><text class="c" x="984.6" y="382">10</text><text class="c" x="984.6" y="403">8</text><text class="c" x="984.6" y="424">7</text></g>
<g id="C429"><use href="#ch" x="910.7" y="457.7"/><text x="900" y="444">C429</text><text x="900" y="452">4.7</text></g>
<g id="C430"><use href="#cv" x="926" y="475"/><use href="#gd" x="926" y="486.7"/><text x="897" y="473">C430</text><text x="897" y="481">4.7</text></g>
<g id="R454"><use href="#rh" x="1104.3" y="309.3"/><text x="1096" y="323">R454</text><text x="1096" y="331">1K</text></g>
<g id="R1406"><use href="#rv" x="1162" y="322.7"/><use href="#gd" x="1162" y="336"/><text x="1168" y="322">R1406</text><text x="1168" y="331">2K</text></g>
<g id="C1401"><use href="#cv" x="1204.3" y="323.3"/><use href="#gd" x="1204.3" y="336"/><text x="1212" y="322">C1401</text><text x="1212" y="331">0.22</text></g>
<g id="D451"><use href="#dr" x="1146.4" y="378.3"/><text x="1133" y="365">D451</text><text x="1131" y="373">1SS400</text></g>
<g id="D450"><use href="#du" x="1103.9" y="391.7"/><use href="#gd" x="1103.9" y="405"/><text x="1111" y="389">D450</text><text x="1111" y="397">1SS400</text></g>
<g id="D493"><use href="#dr" x="1077.9" y="420.7"/><text x="1064" y="407">D493</text><text x="1064" y="416">1SS133</text></g>
<g id="D492"><use href="#du" x="1050.7" y="437.3"/><use href="#gd" x="1050.7" y="453.3"/><text x="1056" y="433">D492</text><text x="1056" y="442">1SS400</text></g>
<g id="R492"><use href="#rv" x="1103.9" y="436.7"/><text x="1109" y="434">R492</text><text x="1109" y="442">47</text></g>
<g id="R493"><use href="#rv" x="1103.9" y="463.3"/><use href="#gd" x="1103.9" y="477.3"/><text x="1109" y="463">R493</text><text x="1109" y="471">270</text></g>
<g id="R476"><use href="#rh" x="1252.9" y="378.3"/><text x="1239" y="364">R476</text><text x="1239" y="372">1K</text></g>
<g id="C450"><use href="#cv" x="1268.2" y="395"/><use href="#gd" x="1268.2" y="403.3"/><text x="1276" y="392">C450</text><text x="1276" y="400">0.22</text></g>
<g id="R450"><use href="#rv" x="1210" y="394"/><text x="1215" y="394">R450</text><text x="1215" y="403">620</text></g>
<g id="R451"><use href="#rv" x="1210" y="431.7"/><use href="#gd" x="1210" y="445"/><text x="1215" y="432">R451</text><text x="1215" y="440">15</text></g>
<g id="R477"><use href="#rh" x="1252.9" y="415.3"/><text x="1239" y="402">R477</text><text x="1239" y="410">10K</text></g>
<g id="Q452"><use href="#q" x="1379.6" y="415.3"/><use href="#gd" x="1385" y="436.7"/><text x="1308" y="372">Q452</text><text x="1308" y="381">2SC4081T106Q</text><text x="1308" y="392">OVER VOLTAGE</text><text x="1308" y="402">PROTECTOR</text><text class="p" x="1301" y="401">(</text><text class="p" x="1376" y="401">)</text><text x="1364" y="413">0</text><text x="1389" y="408">1.3</text><text x="1388" y="431">0</text></g>
<g id="Q451"><use href="#q" transform="translate(1411 372.7) scale(-1 1)"/><use href="#gd" x="1406" y="395"/><text x="1388" y="362">1.3</text><text x="1421" y="370">0</text><text x="1397" y="388">0</text><text x="1421" y="383">Q451</text><text x="1421" y="391">2SC41B1T106Q</text><text x="1417" y="400">OVER VOLTAGE</text><text x="1417" y="409">PROTECTOR</text><text class="p" x="1410" y="408">(</text><text class="p" x="1483" y="408">)</text></g>
<g id="R458"><use href="#rh" x="1517" y="372.7"/><text x="1501" y="359">R458</text><text x="1501" y="367">10K</text></g>
<g id="R459"><use href="#rv" x="1495.7" y="386.7"/><use href="#gd" x="1495.7" y="399.3"/><text x="1501" y="386">R459</text><text x="1501" y="394">10K</text></g>
<g id="C423"><use href="#ce" x="669.6" y="546.7"/><use href="#gd" x="669.6" y="561"/><text x="677" y="545">C423</text><text x="677" y="553">47/35V</text></g>
<g id="C425"><use href="#cv" x="759.6" y="546.7"/><use href="#gd" x="759.6" y="561"/><text x="765" y="547">C425</text><text x="765" y="555">0.1</text></g>
<g id="D425"><use href="#dz" x="791" y="546.7"/><text x="770" y="521">D425</text><text x="770" y="529">MTZJT-779.1B</text></g>
<g id="R437"><use href="#rv" x="812.5" y="546.7"/><text x="818" y="546">R437</text><text x="818" y="554">10K</text></g>
<g id="R435"><use href="#rh" x="706.4" y="571.3"/><text x="696" y="584">R435</text><text x="696" y="592">WIRE</text></g>
<g id="C441"><use href="#ch" x="740.4" y="571.3"/><text x="730" y="557">C441</text><text x="730" y="565">0.22</text></g>
<g id="Q426"><use href="#chip" x="727.9" y="619"/><use href="#w" x="681.4" y="608"/><circle class="f" cx="738.6" cy="611" r="7"/><circle class="f" cx="759.6" cy="611" r="7"/><circle class="f" cx="780.7" cy="611" r="7"/><circle class="f" cx="801.8" cy="611" r="7"/><circle class="f" cx="738.6" cy="670" r="7"/><circle class="f" cx="759.6" cy="670" r="7"/><circle class="f" cx="780.7" cy="670" r="7"/><circle class="f" cx="801.8" cy="670" r="7"/><use href="#gd" x="738.6" y="696.7"/>
<text class="c" x="739" y="615">8</text><text class="c" x="760" y="615">7</text><text class="c" x="781" y="615">6</text><text class="c" x="802" y="615">5</text><text class="c" x="739" y="674">1</text><text class="c" x="760" y="674">2</text><text class="c" x="781" y="674">3</text><text class="c" x="802" y="674">4</text>
<text class="n" x="742" y="601">10.7</text><text class="n" x="763" y="601">10.7</text><text class="n" x="784" y="601">10.7</text><text class="n" x="805" y="601">10.7</text><text x="741" y="688">0</text><text x="762" y="688">1.4</text><text class="n" x="783" y="688">21.4</text><text class="n" x="805" y="688">20.8</text>
<text x="675" y="624">Q426</text><text x="675" y="635">TPC8405</text><text x="677" y="648">CURRENT</text><text x="677" y="657">CONTROL</text><text x="677" y="667">SWITCH</text><text class="p3" x="668" y="663">(</text><text class="p3" x="715" y="663">)</text></g>
<g id="R438"><use href="#rh" x="701.8" y="709"/><text x="687" y="696">R438</text><text x="687" y="704">0</text></g>
<g id="D403"><use href="#dz" x="669.6" y="725.7"/><use href="#gd" x="669.6" y="738"/><text x="675" y="725">D403</text><text x="675" y="733">MTZJT-7715B</text></g>
<g id="D426"><use href="#du" x="860.4" y="545"/><text x="865" y="521">D426</text><text x="865" y="529">11EQS04</text></g>
<g id="D427"><use href="#du" x="860.4" y="608.3"/><use href="#gd" x="860.4" y="624.3"/><text x="855" y="637">D427</text><text x="856" y="645">11EQS04</text></g>
<g id="T490"><use href="#w" x="938" y="542.5"/><use href="#tr" y="236"/><text x="932" y="558">T490</text><text x="932" y="569">INVERTER TRANS</text>
<text class="c" x="947.5" y="588.5">3</text><text class="c" x="947.5" y="604.5">4</text><text class="c" x="947.5" y="620.5">2</text><text class="c" x="947.5" y="636.5">5</text><text class="c" x="947.5" y="652">1</text><text class="c" x="947.5" y="668">6</text><text class="c" x="984.6" y="597">9</text><text class="c" x="984.6" y="618">10</text><text class="c" x="984.6" y="639">8</text><text class="c" x="984.6" y="660">7</text></g>
<g id="C431"><use href="#ch" x="910.7" y="693.7"/><text x="900" y="680">C431</text><text x="900" y="688">4.7</text></g>
<g id="C432"><use href="#cv" x="926" y="709.3"/><use href="#gd" x="926" y="722.7"/><text x="897" y="708">C432</text><text x="897" y="716">4.7</text></g>
<g id="D491"><use href="#dr" x="1104.3" y="566"/><text x="1090" y="553">D491</text><text x="1089" y="561">1SS133</text></g>
<g id="D490"><use href="#du" x="1061.4" y="580"/><use href="#gd" x="1061.4" y="598.3"/><text x="1070" y="576">D490</text><text x="1070" y="584">1SS133</text></g>
<g id="D453"><use href="#dr" x="1075" y="656.7"/><text x="1061" y="643">D453</text><text x="1061" y="651">1SS400</text></g>
<g id="D452"><use href="#du" x="1048.2" y="671.7"/><use href="#gd" x="1048.2" y="688.3"/><text x="1054" y="669">D452</text><text x="1054" y="677">1SS400</text></g>
<g id="R478"><use href="#rv" x="1125.7" y="618.3"/><text x="1099" y="617">R478</text><text x="1099" y="624">1K</text></g>
<g id="R452"><use href="#rv" x="1101" y="672.3"/><text x="1107" y="669">R452</text><text x="1107" y="677">620</text></g>
<g id="R453"><use href="#rv" x="1101" y="710"/><use href="#gd" x="1101" y="727.7"/><text x="1107" y="709">R453</text><text x="1107" y="717">15</text></g>
<g id="R479"><use href="#rh" x="1155" y="738.3"/><text x="1141" y="723">R479</text><text x="1141" y="733">10K</text></g>
<g id="Q455"><use href="#q" x="1194" y="738.3"/><use href="#gd" x="1199.3" y="760.7"/><text x="1168" y="735">0.1</text><text x="1181" y="725">1.3</text><text x="1203" y="754">0</text><text x="1212" y="727">Q455</text><text x="1212" y="735">2SC4081T106Q</text><text x="1215" y="747">OVER VOLTAGE</text><text x="1215" y="757">PROTECTOR</text><text class="p" x="1208" y="755">(</text><text class="p" x="1283" y="755">)</text></g>
<g id="C451"><use href="#cv" x="1141" y="535"/><use href="#gd" x="1141" y="546"/><text x="1149" y="535">C451</text><text x="1149" y="543">0.22</text></g>
<g id="R485"><use href="#rh" x="1192" y="566"/><text x="1178" y="553">R485</text><text x="1178" y="561">1K</text></g>
<g id="C490"><use href="#cv" x="1207" y="583.3"/><use href="#gd" x="1207" y="593.3"/><text x="1215" y="582">C490</text><text x="1215" y="590">0.22</text></g>
<g id="R490"><use href="#rv" x="1167.9" y="605.7"/><text x="1173" y="606">R490</text><text x="1173" y="614">620</text></g>
<g id="R491"><use href="#rv" x="1167.9" y="659"/><use href="#gd" x="1167.9" y="675"/><text x="1173" y="659">R491</text><text x="1173" y="667">15</text></g>
<g id="R486"><use href="#rh" x="1216" y="640"/><text x="1202" y="627">R486</text><text x="1202" y="635">10K</text></g>
<g id="Q492"><use href="#q" x="1278.6" y="640"/><use href="#gd" x="1284" y="660"/><text x="1250" y="638">0.1</text><text x="1267" y="627">1.3</text><text x="1287" y="657">0</text><text x="1297" y="629">Q492</text><text x="1297" y="638">2SC4081T106Q</text><text x="1300" y="649">OVER VOLTAGE</text><text x="1300" y="659">PROTECTOR</text><text class="p" x="1292" y="657">(</text><text class="p" x="1367" y="657">)</text></g>
<g id="Q491"><use href="#q" transform="translate(1268.6 592.7) scale(-1 1)"/><use href="#gd" x="1262.9" y="614"/><text x="1245" y="579">1.3</text><text x="1255" y="608">0</text><text x="1281" y="603">0</text><text x="1274" y="563">Q491</text><text x="1274" y="572">2SC4081T106Q</text><text x="1281" y="581">OVER VOLTAGE</text><text x="1281" y="590">PROTECTOR</text><text class="p" x="1274" y="589">(</text><text class="p" x="1347" y="589">)</text></g>
<g id="R481"><use href="#rh" x="1398.2" y="592.7"/><text x="1387" y="580">R481</text><text x="1387" y="588">10K</text></g>
<g id="R480"><use href="#rv" x="1352.9" y="606.7"/><use href="#gd" x="1352.9" y="619.3"/><text x="1358" y="606">R480</text><text x="1358" y="614">10K</text></g>
<g id="Q454"><use href="#q" transform="translate(1286.4 698.3) scale(-1 1)"/><use href="#gd" x="1281" y="720"/><text x="1264" y="688">1.3</text><text x="1297" y="696">0</text><text x="1274" y="714">0</text><text x="1297" y="709">Q454</text><text x="1297" y="717">2SC4081T106Q</text><text x="1292" y="726">OVER VOLTAGE</text><text x="1292" y="735">PROTECTOR</text><text class="p" x="1285" y="734">(</text><text class="p" x="1358" y="734">)</text></g>
<g id="R468"><use href="#rh" x="1411.8" y="698.3"/><text x="1396" y="686">R468</text><text x="1396" y="693">10K</text></g>
<g id="R469"><use href="#rv" x="1371.4" y="722.7"/><use href="#gd" x="1371.4" y="741.7"/><text x="1377" y="722">R469</text><text x="1377" y="730">10K</text></g>
<g id="IC402"><path class="ic" d="M1469.6 592.7H1642V605A16.7 16.7 0 0 0 1642 636.7V656.7H1469.6Z"/>
<path class="g1" style="stroke-width:1.1" d="M1482.9 592.7V614H1488.6M1506.4 592.7V600.7H1517V610.7H1504.6M1530.4 592.7V616.7H1504.6M1578.2 592.7V616.7H1604.6M1602 592.7V600.7H1591.4V610.7H1604.6M1625.7 592.7V614H1620.7M1482.9 656.7V635.3H1488.6M1506.4 656.7V648.7H1517V638.3H1504.6M1530.4 656.7V632.3H1504.6M1578.2 656.7V632.3H1604.6M1602 656.7V648.7H1591.4V638.3H1604.6M1625.7 656.7V635.3H1620.7"/>
<polygon points="1488.6,614 1504.6,606 1504.6,622"/><polygon points="1620.7,614 1604.6,606 1604.6,622"/><polygon points="1488.6,635.3 1504.6,627.3 1504.6,643.3"/><polygon points="1620.7,635.3 1604.6,627.3 1604.6,643.3"/>
<circle class="f" cx="1482.9" cy="584.3" r="7"/><circle class="f" cx="1506.4" cy="584.3" r="7"/><circle class="f" cx="1530.4" cy="584.3" r="7"/><circle class="f" cx="1554.3" cy="584.3" r="7"/><circle class="f" cx="1578.2" cy="584.3" r="7"/><circle class="f" cx="1602" cy="584.3" r="7"/><circle class="f" cx="1625.7" cy="584.3" r="7"/><circle class="f" cx="1482.9" cy="664.3" r="7"/><circle class="f" cx="1506.4" cy="664.3" r="7"/><circle class="f" cx="1530.4" cy="664.3" r="7"/><circle class="f" cx="1554.3" cy="664.3" r="7"/><circle class="f" cx="1578.2" cy="664.3" r="7"/><circle class="f" cx="1602" cy="664.3" r="7"/><circle class="f" cx="1625.7" cy="664.3" r="7"/>
<text class="c" x="1483" y="588">7</text><text class="c" x="1506" y="588">6</text><text class="c" x="1530" y="588">5</text><text class="c" x="1554" y="588">4</text><text class="c" x="1578" y="588">3</text><text class="c" x="1602" y="588">2</text><text class="c" x="1626" y="588">1</text><text class="c" x="1483" y="668">8</text><text class="c" x="1506" y="668">9</text><text class="c" x="1530" y="668">10</text><text class="c" x="1554" y="668">11</text><text class="c" x="1578" y="668">12</text><text class="c" x="1602" y="668">13</text><text class="c" x="1626" y="668">14</text>
<text x="1486" y="574">0</text><text x="1510" y="574">2.4</text><text x="1534" y="574">2.1</text><text x="1558" y="574">8.4</text><text x="1581" y="574">2.1</text><text x="1605" y="574">2.4</text><text x="1629" y="574">0</text><text x="1486" y="680">0</text><text x="1510" y="680">2.3</text><text x="1534" y="680">0</text><text x="1558" y="680">0</text><text x="1581" y="680">0</text><text x="1605" y="680">0</text><text x="1629" y="680">0</text>
<text x="1549" y="603">V+</text><text x="1549" y="651">V-</text><text class="b" x="1644" y="622">IC402</text><text x="1644" y="632">BA10324AF-E2</text><text x="1644" y="642">(OP AMP)</text><use href="#gd" x="1554.3" y="686"/></g>
<g id="C1403"><use href="#cv" x="1517.9" y="505.7"/><use href="#gd" x="1517.9" y="521.7"/><text x="1483" y="505">C1403</text><text x="1483" y="513">0.22</text></g>
<g id="C1404"><use href="#cv" x="1530.4" y="731.7"/><use href="#gd" x="1530.4" y="746.7"/><text x="1538" y="730">C1404</text><text x="1538" y="738">0.22</text></g>
<g id="C1409"><use href="#cv" x="1679" y="581.7"/><use href="#gd" x="1679" y="598.3"/><text x="1687" y="583">C1409</text><text x="1687" y="590">0.22</text></g>
<g id="C426"><use href="#ce" x="669.6" y="794.3"/><use href="#gd" x="669.6" y="805.7"/><text x="677" y="788">C426</text><text x="677" y="797">47/35V</text></g>
<g id="C428"><use href="#cv" x="759.6" y="793.3"/><use href="#gd" x="759.6" y="810"/><text x="767" y="791">C428</text><text x="767" y="799">0.1</text></g>
<g id="D430"><use href="#dz" x="796.4" y="793.3"/><text x="776" y="768">D430</text><text x="776" y="776">MTZJT-779.1B</text></g>
<g id="R443"><use href="#rv" x="812.5" y="793.3"/><text x="818" y="793">R443</text><text x="818" y="802">10K</text></g>
<g id="R440"><use href="#rh" x="710" y="815.3"/><text x="699" y="828">R440</text><text x="699" y="837">0</text></g>
<g id="C442"><use href="#ch" x="740.4" y="815.3"/><text x="730" y="802">C442</text><text x="730" y="810">0.22</text></g>
<g id="Q433"><use href="#chip" x="727.9" y="860"/><use href="#w" x="686.8" y="857"/><circle class="f" cx="738.6" cy="852.3" r="7"/><circle class="f" cx="759.6" cy="852.3" r="7"/><circle class="f" cx="780.7" cy="852.3" r="7"/><circle class="f" cx="801.8" cy="852.3" r="7"/><circle class="f" cx="738.6" cy="910.7" r="7"/><circle class="f" cx="759.6" cy="910.7" r="7"/><circle class="f" cx="780.7" cy="910.7" r="7"/><circle class="f" cx="801.8" cy="910.7" r="7"/><use href="#gd" x="738.6" y="937.3"/>
<text class="c" x="739" y="856">8</text><text class="c" x="760" y="856">7</text><text class="c" x="781" y="856">6</text><text class="c" x="802" y="856">5</text><text class="c" x="739" y="914">1</text><text class="c" x="760" y="914">2</text><text class="c" x="781" y="914">3</text><text class="c" x="802" y="914">4</text>
<text class="n" x="742" y="842">10.7</text><text class="n" x="763" y="842">10.7</text><text class="n" x="784" y="842">10.7</text><text class="n" x="805" y="842">10.7</text><text x="741" y="929">0</text><text x="762" y="929">1.4</text><text class="n" x="783" y="929">21.6</text><text class="n" x="805" y="929">20.7</text>
<text x="680" y="873">Q433</text><text x="680" y="884">TPC8405</text><text x="683" y="897">CURRENT</text><text x="683" y="906">CONTROL</text><text x="683" y="916">SWITCH</text><text class="p3" x="674" y="912">(</text><text class="p3" x="720" y="912">)</text></g>
<g id="R442"><use href="#rh" x="701.8" y="950"/><text x="687" y="937">R442</text><text x="687" y="945">0</text></g>
<g id="D404"><use href="#dz" x="643" y="971"/><use href="#gd" x="643" y="985.7"/><text x="651" y="968">D404</text><text x="651" y="977">MTZJT-7715B</text></g>
<g id="D431"><use href="#du" x="860.4" y="791.7"/><text x="862" y="765">D431</text><text x="864" y="775">11EQS04</text></g>
<g id="D432"><use href="#du" x="860.4" y="850"/><use href="#gd" x="860.4" y="866"/><text x="855" y="879">D432</text><text x="856" y="889">11EQS04</text></g>
<g id="T460"><use href="#w" x="938" y="783"/><use href="#tr" y="477"/><text x="932" y="799">T460</text><text x="932" y="810">INVERTER TRANS</text>
<text class="c" x="947.5" y="829.5">3</text><text class="c" x="947.5" y="845.5">4</text><text class="c" x="947.5" y="861.5">2</text><text class="c" x="947.5" y="877.5">5</text><text class="c" x="947.5" y="893">1</text><text class="c" x="947.5" y="909">6</text><text class="c" x="984.6" y="838">9</text><text class="c" x="984.6" y="859">10</text><text class="c" x="984.6" y="880">8</text><text class="c" x="984.6" y="901">7</text></g>
<g id="C433"><use href="#ch" x="910.7" y="934.7"/><text x="900" y="921">C433</text><text x="900" y="929">4.7</text></g>
<g id="C434"><use href="#cv" x="926" y="951.7"/><use href="#gd" x="926" y="964"/><text x="897" y="950">C434</text><text x="897" y="958">4.7</text></g>
<g id="D460"><use href="#du" x="1099" y="868.3"/><use href="#gd" x="1099" y="886"/><text x="1106" y="865">D460</text><text x="1106" y="873">1SS400</text></g>
<g id="D473"><use href="#dr" x="1061.4" y="897"/><text x="1048" y="884">D473</text><text x="1049" y="892">1SS133</text></g>
<g id="D472"><use href="#du" x="1035" y="924"/><use href="#gd" x="1035" y="940"/><text x="1040" y="921">D472</text><text x="1040" y="929">1SS133</text></g>
<g id="R472"><use href="#rv" x="1099" y="912.3"/><text x="1104" y="911">R472</text><text x="1104" y="918">47</text></g>
<g id="R473"><use href="#rv" x="1099" y="941.7"/><use href="#gd" x="1099" y="955.7"/><text x="1104" y="943">R473</text><text x="1104" y="950">270</text></g>
<g id="D461"><use href="#dr" x="1192" y="855.3"/><text x="1178" y="842">D461</text><text x="1177" y="849">1SS133</text></g>
<g id="R487"><use href="#rh" x="1284.6" y="855.3"/><text x="1271" y="842">R487</text><text x="1271" y="849">1K</text></g>
<g id="C460"><use href="#cv" x="1305.4" y="870"/><use href="#gd" x="1305.4" y="880.7"/><text x="1313" y="868">C460</text><text x="1313" y="877">0.22</text></g>
<g id="R460"><use href="#rv" x="1236" y="870.7"/><text x="1242" y="871">R460</text><text x="1242" y="879">620</text></g>
<g id="R461"><use href="#rv" x="1236" y="924"/><use href="#gd" x="1236" y="940.7"/><text x="1242" y="924">R461</text><text x="1242" y="932">15</text></g>
<g id="R488"><use href="#rh" x="1284.6" y="907.7"/><text x="1271" y="895">R488</text><text x="1271" y="903">10K</text></g>
<g id="Q462"><use href="#q" x="1342.9" y="907.7"/><use href="#gd" x="1347.9" y="930"/><text x="1321" y="905">0</text><text x="1330" y="897">1.3</text><text x="1351" y="924">0</text><text x="1358" y="899">Q462</text><text x="1358" y="908">2SC4081T106Q</text><text x="1364" y="917">OVER VOLTAGE</text><text x="1364" y="926">PROTECTOR</text><text class="p" x="1357" y="925">(</text><text class="p" x="1432" y="925">)</text></g>
<g id="Q461"><use href="#q" transform="translate(1517 873.7) scale(-1 1)"/><use href="#gd" x="1511.8" y="895"/><text x="1492" y="863">1.3</text><text x="1527" y="871">0</text><text x="1504" y="889">0</text><text x="1424" y="868">Q461</text><text x="1424" y="876">2SC4081T106Q</text><text x="1424" y="888">OVER VOLTAGE</text><text x="1424" y="897">PROTECTOR</text><text class="p" x="1417" y="896">(</text><text class="p" x="1497" y="896">)</text></g>
<g id="R482"><use href="#rh" x="1576.8" y="873.7"/><text x="1559" y="860">R482</text><text x="1560" y="868">10K</text></g>
<g id="R483"><use href="#rv" x="1549" y="887.7"/><use href="#gd" x="1549" y="900"/><text x="1554" y="887">R483</text><text x="1554" y="895">10K</text></g>
<g id="C452"><use href="#cv" x="1639" y="291"/><use href="#w" x="1677.7" y="282.5"/><text x="1647" y="288">C452</text><text x="1648" y="296">10P/3KV</text></g>
<g id="C453"><use href="#cv" x="1639" y="320"/><use href="#gd" x="1639" y="336"/><text x="1647" y="320">C453</text><text x="1647" y="328">0.022</text></g>
<g id="C454"><use href="#cv" x="1639" y="359.3"/><use href="#w" x="1677.7" y="354"/><text x="1647" y="360">C454</text><text x="1648" y="368">10P/3KV</text></g>
<g id="C455"><use href="#cv" x="1639" y="388.3"/><use href="#gd" x="1639" y="402.7"/><text x="1647" y="389">C455</text><text x="1647" y="397">0.022</text></g>
<g id="D455"><use href="#dr" x="1719" y="303.7"/><text x="1705" y="291">D455</text><text x="1706" y="298">1SS400</text></g>
<g id="D454"><use href="#du" x="1686.7" y="320"/><use href="#gd" x="1686.7" y="336"/><text x="1692" y="318">D454</text><text x="1692" y="325">1SS400</text></g>
<g id="D457"><use href="#dr" x="1719" y="372.7"/><text x="1705" y="359">D457</text><text x="1706" y="367">1SS133</text></g>
<g id="D456"><use href="#du" x="1686.7" y="389"/><use href="#gd" x="1686.7" y="401.7"/><text x="1692" y="387">D456</text><text x="1692" y="394">1SS400</text></g>
<g id="C492"><use href="#cv" x="1639" y="433.3"/><use href="#w" x="1677.7" y="425.7"/><text x="1647" y="431">C492</text><text x="1648" y="439">10P/3KV</text></g>
<g id="C493"><use href="#cv" x="1639" y="461.7"/><use href="#gd" x="1639" y="475"/><text x="1647" y="460">C493</text><text x="1647" y="468">0.022</text></g>
<g id="C494"><use href="#cv" x="1639" y="499.3"/><use href="#w" x="1677.7" y="494"/><text x="1647" y="500">C494</text><text x="1648" y="508">10P/3KV</text></g>
<g id="C495"><use href="#cv" x="1639" y="527.3"/><use href="#gd" x="1639" y="542.7"/><text x="1647" y="527">C495</text><text x="1647" y="535">0.022</text></g>
<g id="D495"><use href="#dr" x="1715.7" y="444"/><text x="1702" y="431">D495</text><text x="1703" y="439">1SS133</text></g>
<g id="D494"><use href="#du" x="1686.7" y="460.7"/><use href="#gd" x="1686.7" y="475"/><text x="1692" y="458">D494</text><text x="1692" y="465">1SS133</text></g>
<g id="D497"><use href="#dr" x="1719" y="513"/><text x="1705" y="500">D497</text><text x="1706" y="508">1SS400</text></g>
<g id="D496"><use href="#du" x="1686.7" y="526.7"/><use href="#gd" x="1686.7" y="542.7"/><text x="1692" y="523">D496</text><text x="1692" y="532">1SS400</text></g>
<g id="C462"><use href="#cv" x="1639" y="781"/><use href="#w" x="1677.7" y="775"/><text x="1647" y="781">C462</text><text x="1648" y="788">10P/3KV</text></g>
<g id="C463"><use href="#cv" x="1639" y="812.3"/><use href="#gd" x="1639" y="828.3"/><text x="1647" y="812">C463</text><text x="1647" y="821">0.022</text></g>
<g id="C464"><use href="#cv" x="1639" y="849.3"/><use href="#w" x="1677.7" y="844.3"/><text x="1647" y="850">C464</text><text x="1648" y="857">10P/3KV</text></g>
<g id="C465"><use href="#cv" x="1639" y="881.7"/><use href="#gd" x="1639" y="896.7"/><text x="1647" y="881">C465</text><text x="1647" y="889">0.022</text></g>
<g id="D465"><use href="#dr" x="1711" y="796.3"/><text x="1697" y="783">D465</text><text x="1698" y="791">1SS133</text></g>
<g id="D464"><use href="#du" x="1686.7" y="812.7"/><use href="#gd" x="1686.7" y="828.3"/><text x="1692" y="810">D464</text><text x="1692" y="818">1SS400</text></g>
<g id="D467"><use href="#dr" x="1711" y="865.3"/><text x="1697" y="852">D467</text><text x="1698" y="860">1SS133</text></g>
<g id="D466"><use href="#du" x="1686.7" y="881.7"/><use href="#gd" x="1686.7" y="896.7"/><text x="1692" y="878">D466</text><text x="1692" y="887">1SS133</text></g>
<g id="R466"><use href="#rv" x="1745" y="1008.3"/><text x="1719" y="1008">R466</text><text x="1719" y="1017">10K</text></g>
<g id="R467"><use href="#rv" x="1745" y="1106.7"/><use href="#gd" x="1745" y="1120"/><text x="1719" y="1107">R467</text><text x="1719" y="1114">680K</text></g>
<g id="R456"><use href="#rv" x="1763.3" y="1042.7"/><text x="1769" y="1043">R456</text><text x="1769" y="1051">10K</text></g>
<g id="R457"><use href="#rv" x="1763.3" y="1106.7"/><use href="#gd" x="1763.3" y="1120"/><text x="1769" y="1107">R457</text><text x="1769" y="1114">680K</text></g>
<g id="CN450"><use href="#lamp"/><text x="1776" y="331">CN450</text><text class="c" x="1801" y="345">1</text><text class="c" x="1801" y="361">2</text><text x="1893" y="348">BACK</text><text x="1893" y="357">LIGHT</text></g>
<g id="CN490"><use href="#lamp" y="138"/><text x="1776" y="469">CN490</text><text class="c" x="1801" y="483">1</text><text class="c" x="1801" y="499">2</text><text x="1893" y="486">BACK</text><text x="1893" y="495">LIGHT</text></g>
<g id="CN460"><use href="#lamp" y="492.4"/><text x="1779" y="823">CN460</text><text class="c" x="1801" y="837">1</text><text class="c" x="1801" y="853">2</text><text x="1893" y="840">BACK</text><text x="1893" y="850">LIGHT</text></g>
</svg>
